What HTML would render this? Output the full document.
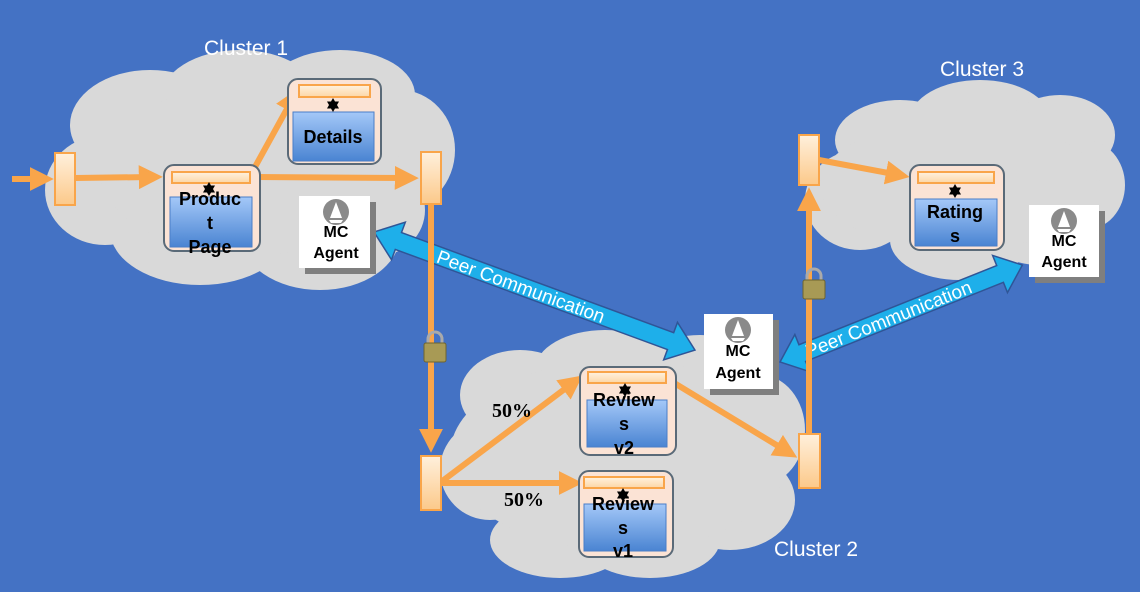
<!DOCTYPE html>
<html><head><meta charset="utf-8"><style>
html,body{margin:0;padding:0;background:#4472c4;}
svg{display:block}
</style></head><body>
<svg width="1140" height="592" viewBox="0 0 1140 592" xmlns="http://www.w3.org/2000/svg" font-family="Liberation Sans, sans-serif">
<defs>
<linearGradient id="bar" x1="0" y1="0" x2="0" y2="1"><stop offset="0" stop-color="#fff0dc"/><stop offset="1" stop-color="#fcc98a"/></linearGradient>
<linearGradient id="barh" x1="0" y1="0" x2="0" y2="1"><stop offset="0" stop-color="#fff2e0"/><stop offset="1" stop-color="#fcd6a6"/></linearGradient>
<linearGradient id="blue" x1="0" y1="0" x2="0" y2="1"><stop offset="0" stop-color="#a4c8f8"/><stop offset="1" stop-color="#4a84d2"/></linearGradient>
<marker id="ah" markerWidth="4" markerHeight="4" refX="2.2" refY="2" orient="auto" markerUnits="strokeWidth"><path d="M0,0 L4,2 L0,4 Z" fill="#f9a54a"/></marker>
<g id="star"><path d="M0,-7 L6,3.5 L-6,3.5 Z" fill="#000"/><path d="M0,7 L-6,-3.5 L6,-3.5 Z" fill="#000"/></g>
</defs>
<rect width="1140" height="592" fill="#4472c4"/>

<g fill="#d9d9d9">
<ellipse cx="150" cy="125" rx="80" ry="55"/><ellipse cx="240" cy="100" rx="80" ry="50"/><ellipse cx="340" cy="95" rx="75" ry="45"/>
<ellipse cx="400" cy="150" rx="55" ry="60"/><ellipse cx="105" cy="190" rx="60" ry="55"/><ellipse cx="200" cy="230" rx="90" ry="55"/>
<ellipse cx="320" cy="235" rx="80" ry="55"/><ellipse cx="380" cy="210" rx="45" ry="45"/><ellipse cx="250" cy="170" rx="150" ry="85"/>
<ellipse cx="900" cy="140" rx="65" ry="40"/><ellipse cx="980" cy="120" rx="70" ry="40"/><ellipse cx="1060" cy="135" rx="55" ry="40"/>
<ellipse cx="1085" cy="185" rx="40" ry="45"/><ellipse cx="860" cy="200" rx="55" ry="50"/><ellipse cx="960" cy="240" rx="70" ry="40"/>
<ellipse cx="1040" cy="230" rx="55" ry="35"/><ellipse cx="960" cy="185" rx="140" ry="65"/>
<ellipse cx="520" cy="395" rx="60" ry="45"/><ellipse cx="605" cy="370" rx="70" ry="40"/><ellipse cx="700" cy="380" rx="70" ry="45"/>
<ellipse cx="760" cy="430" rx="45" ry="55"/><ellipse cx="490" cy="470" rx="50" ry="50"/><ellipse cx="560" cy="540" rx="70" ry="38"/>
<ellipse cx="650" cy="540" rx="70" ry="38"/><ellipse cx="730" cy="500" rx="65" ry="50"/><ellipse cx="620" cy="455" rx="170" ry="95"/>
</g>

<g transform="translate(374,232) rotate(20.2)">
<path d="M0,0 L26,-20 L26,-9 L316,-9 L316,-20 L342,0 L316,20 L316,9 L26,9 L26,20 Z" fill="#1eafea" stroke="#2f5597" stroke-width="1.5"/>
<text x="68" y="7" font-size="19" fill="#fff">Peer Communication</text>
</g>
<g transform="translate(780,362) rotate(-21.8)">
<path d="M0,0 L24,-20 L24,-9 L237,-9 L237,-20 L261,0 L237,20 L237,9 L24,9 L24,20 Z" fill="#1eafea" stroke="#2f5597" stroke-width="1.5"/>
<text x="28" y="7" font-size="19" fill="#fff">Peer Communication</text>
</g>

<g stroke="#f9a54a" stroke-width="6" fill="none">
<line x1="12" y1="179" x2="43" y2="179" marker-end="url(#ah)"/>
<line x1="75" y1="178" x2="152" y2="177" marker-end="url(#ah)"/>
<line x1="250" y1="176" x2="293" y2="98" marker-end="url(#ah)"/>
<line x1="255" y1="177" x2="408" y2="178" marker-end="url(#ah)"/>
<line x1="431" y1="204" x2="431" y2="442" marker-end="url(#ah)"/>
<line x1="441" y1="482" x2="574" y2="382" marker-end="url(#ah)"/>
<line x1="441" y1="483" x2="572" y2="483" marker-end="url(#ah)"/>
<line x1="666" y1="378" x2="788" y2="452" marker-end="url(#ah)"/>
<line x1="809" y1="434" x2="809" y2="198" marker-end="url(#ah)"/>
<line x1="819" y1="160" x2="899" y2="175" marker-end="url(#ah)"/>
</g>

<g fill="url(#bar)" stroke="#f9a54a" stroke-width="2">
<rect x="55" y="153" width="20" height="52"/>
<rect x="421" y="152" width="20" height="52"/>
<rect x="421" y="456" width="20" height="54"/>
<rect x="799" y="434" width="21" height="54"/>
<rect x="799" y="135" width="20" height="50"/>
</g>

<g>
<path d="M428,344 v-5 a7,7 0 0 1 14,0 v5" fill="none" stroke="#aaa" stroke-width="3"/>
<rect x="424" y="343" width="22" height="19" rx="2" fill="#a89a55" stroke="#6e6430"/>
<path d="M807,281 v-5 a7,7 0 0 1 14,0 v5" fill="none" stroke="#aaa" stroke-width="3"/>
<rect x="803" y="280" width="22" height="19" rx="2" fill="#a89a55" stroke="#6e6430"/>
</g>

<g font-weight="bold" font-size="18" text-anchor="middle">
<rect x="164" y="165" width="96" height="86" rx="10" fill="#fbe3d5" stroke="#5a6a78" stroke-width="2"/>
<rect x="170" y="197" width="82" height="50" fill="url(#blue)" stroke="#4a7ec8"/>
<rect x="172" y="172" width="78" height="11" fill="url(#barh)" stroke="#f9a54a" stroke-width="2"/>
<use href="#star" x="209" y="189"/>
<text x="210" y="205">Produc</text><text x="210" y="229">t</text><text x="210" y="253">Page</text>

<rect x="288" y="79" width="93" height="85" rx="10" fill="#fbe3d5" stroke="#5a6a78" stroke-width="2"/>
<rect x="293" y="112" width="81" height="49" fill="url(#blue)" stroke="#4a7ec8"/>
<rect x="299" y="85" width="71" height="12" fill="url(#barh)" stroke="#f9a54a" stroke-width="2"/>
<use href="#star" x="333" y="105"/>
<text x="333" y="143">Details</text>

<rect x="580" y="367" width="96" height="88" rx="10" fill="#fbe3d5" stroke="#5a6a78" stroke-width="2"/>
<rect x="587" y="400" width="80" height="47" fill="url(#blue)" stroke="#4a7ec8"/>
<rect x="588" y="372" width="78" height="11" fill="url(#barh)" stroke="#f9a54a" stroke-width="2"/>
<use href="#star" x="625" y="390"/>
<text x="624" y="406">Review</text><text x="624" y="430">s</text><text x="624" y="454">v2</text>

<rect x="579" y="471" width="94" height="86" rx="10" fill="#fbe3d5" stroke="#5a6a78" stroke-width="2"/>
<rect x="584" y="504" width="82" height="47" fill="url(#blue)" stroke="#4a7ec8"/>
<rect x="584" y="477" width="80" height="11" fill="url(#barh)" stroke="#f9a54a" stroke-width="2"/>
<use href="#star" x="623" y="495"/>
<text x="623" y="510">Review</text><text x="623" y="534">s</text><text x="623" y="557">v1</text>

<rect x="910" y="165" width="94" height="85" rx="10" fill="#fbe3d5" stroke="#5a6a78" stroke-width="2"/>
<rect x="915" y="199" width="82" height="47" fill="url(#blue)" stroke="#4a7ec8"/>
<rect x="918" y="172" width="76" height="11" fill="url(#barh)" stroke="#f9a54a" stroke-width="2"/>
<use href="#star" x="955" y="191"/>
<text x="955" y="218">Rating</text><text x="955" y="242">s</text>
</g>

<g font-weight="bold" font-size="16" text-anchor="middle">
<rect x="305" y="202" width="71" height="72" fill="#7f7f7f"/>
<rect x="299" y="196" width="71" height="72" fill="#fff"/>
<circle cx="336" cy="212" r="13" fill="#8a8a8a"/><path d="M336,202 L342,218 L330,218 Z M329,220 h14 l-2,3 h-10z" fill="#fff"/>
<text x="336" y="237">MC</text><text x="336" y="258">Agent</text>

<rect x="710" y="320" width="69" height="75" fill="#7f7f7f"/>
<rect x="704" y="314" width="69" height="75" fill="#fff"/>
<circle cx="738" cy="330" r="13" fill="#8a8a8a"/><path d="M738,320 L744,336 L732,336 Z M731,338 h14 l-2,3 h-10z" fill="#fff"/>
<text x="738" y="356">MC</text><text x="738" y="378">Agent</text>

<rect x="1035" y="211" width="70" height="72" fill="#7f7f7f"/>
<rect x="1029" y="205" width="70" height="72" fill="#fff"/>
<circle cx="1064" cy="221" r="13" fill="#8a8a8a"/><path d="M1064,211 L1070,227 L1058,227 Z M1057,229 h14 l-2,3 h-10z" fill="#fff"/>
<text x="1064" y="246">MC</text><text x="1064" y="267">Agent</text>
</g>

<g fill="#fff" font-size="21" text-anchor="middle">
<text x="246" y="55">Cluster 1</text>
<text x="982" y="76">Cluster 3</text>
<text x="816" y="556">Cluster 2</text>
</g>
<g font-family="Liberation Serif, serif" font-weight="bold" font-size="20" fill="#000">
<text x="492" y="417">50%</text>
<text x="504" y="506">50%</text>
</g>
</svg>
</body></html>
